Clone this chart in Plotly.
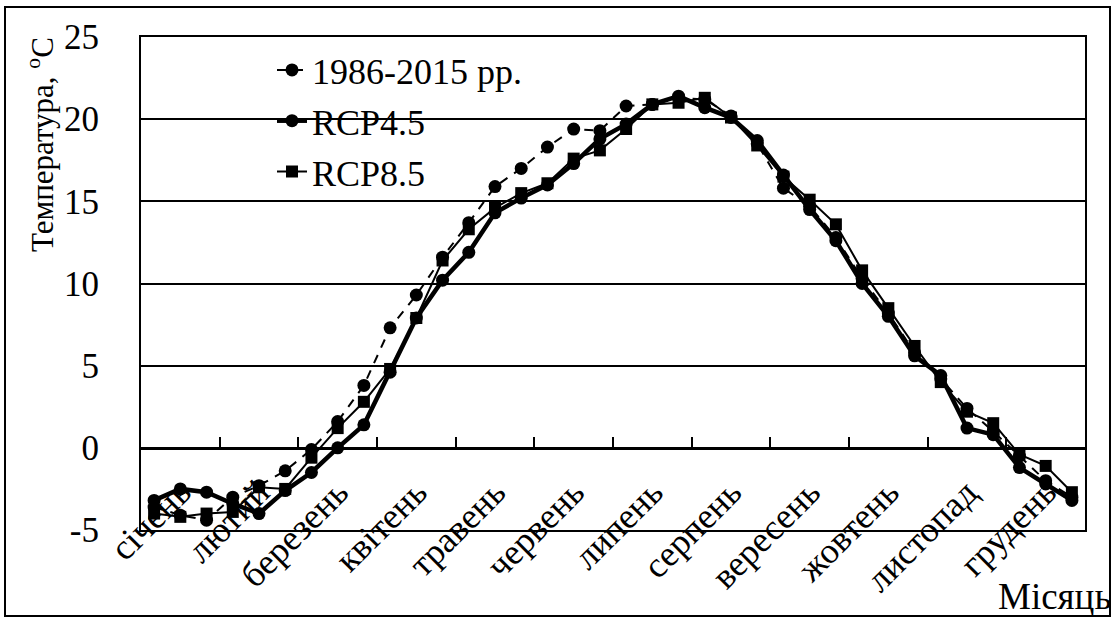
import plotly.graph_objects as go

# ---- data ----
dekads = list(range(1, 37))
months = ["січень", "лютий", "березень", "квітень", "травень", "червень",
          "липень", "серпень", "вересень", "жовтень", "листопад", "грудень"]
month_label_pos = [2, 5, 8, 11, 14, 17, 20, 23, 26, 29, 32, 35]
month_bounds = [3.5, 6.5, 9.5, 12.5, 15.5, 18.5, 21.5, 24.5, 27.5, 30.5, 33.5]

base_1986_2015 = [-3.6, -4.1, -4.4, -3.0, -2.3, -1.4, -0.1, 1.6, 3.8, 7.3, 9.3, 11.6,
                  13.7, 15.9, 17.0, 18.3, 19.4, 19.3, 20.8, 20.9, 21.3, 21.2, 20.2, 18.5,
                  15.8, 14.7, 12.8, 10.3, 8.2, 5.8, 4.2, 2.4, 1.0, -0.5, -2.0, -3.0]
rcp45 = [-3.2, -2.5, -2.7, -3.4, -4.0, -2.6, -1.5, 0.0, 1.4, 4.6, 7.9, 10.2,
         11.9, 14.3, 15.2, 16.0, 17.3, 18.8, 19.7, 20.9, 21.4, 20.7, 20.1, 18.7,
         16.6, 14.5, 12.6, 10.0, 8.0, 5.6, 4.4, 1.2, 0.8, -1.2, -2.2, -3.2]
rcp85 = [-4.0, -4.2, -4.0, -3.9, -2.4, -2.5, -0.6, 1.2, 2.8, 4.8, 7.9, 11.4,
         13.3, 14.6, 15.5, 16.1, 17.6, 18.1, 19.4, 20.9, 21.0, 21.3, 20.1, 18.4,
         16.5, 15.1, 13.6, 10.8, 8.5, 6.2, 4.0, 2.2, 1.5, -0.4, -1.1, -2.7]

y_ticks = [-5, 0, 5, 10, 15, 20, 25]
y_ticktext = ["-5", "0", "5", "10", "15", "20", "25"]

FONT = "Liberation Serif, Times New Roman, serif"
W, H = 1116, 623
ML, MR, MT, MB = 141, 31, 37, 93
PW, PH = W - ML - MR, H - MT - MB


def px_x(px):
    return (px - ML) / PW


def px_y(py):
    return (H - MB - py) / PH


fig = go.Figure()
fig.add_trace(go.Scatter(
    x=dekads, y=base_1986_2015, name="1986-2015 рр.", mode="lines+markers",
    line=dict(color="black", width=2, dash="9px,8px"),
    marker=dict(symbol="circle", size=13, color="black"),
    legendgroup="a"))
fig.add_trace(go.Scatter(
    x=dekads, y=rcp45, name="RCP4.5", mode="lines+markers",
    line=dict(color="black", width=4.5),
    marker=dict(symbol="circle", size=13, color="black"),
    legendgroup="b"))
fig.add_trace(go.Scatter(
    x=dekads, y=rcp85, name="RCP8.5", mode="lines+markers",
    line=dict(color="black", width=2),
    marker=dict(symbol="square", size=12, color="black"),
    legendgroup="c"))

# invisible helper traces to activate overlay axes
fig.add_trace(go.Scatter(x=[dekads[0]], y=[y_ticks[0]], xaxis="x2", mode="markers",
                         marker=dict(opacity=0), showlegend=False, hoverinfo="skip"))
fig.add_trace(go.Scatter(x=[dekads[0]], y=[y_ticks[0]], xaxis="x3", mode="markers",
                         marker=dict(opacity=0), showlegend=False, hoverinfo="skip"))

xr = [dekads[0] - 0.5, dekads[-1] + 0.5]
zero_pos = (0 - y_ticks[0]) / (y_ticks[-1] - y_ticks[0])

fig.update_layout(
    width=W, height=H,
    margin=dict(l=ML, r=MR, t=MT, b=MB),
    paper_bgcolor="white", plot_bgcolor="white",
    font=dict(family=FONT, color="black", size=34),
    showlegend=True,
    legend=dict(x=px_x(272), y=px_y(40), xanchor="left", yanchor="top",
                bgcolor="rgba(0,0,0,0)", font=dict(size=36, family=FONT, color="black"),
                tracegroupgap=1, itemwidth=30),
    xaxis=dict(range=xr, showgrid=False, zeroline=False, showticklabels=False,
               showline=True, mirror=True, linecolor="black", linewidth=2, ticks=""),
    xaxis2=dict(range=xr, overlaying="x", anchor="free", position=zero_pos,
                showgrid=False, zeroline=False, showticklabels=False,
                showline=True, linecolor="black", linewidth=2.5,
                tickmode="array", tickvals=month_bounds, ticks="inside",
                ticklen=10, tickwidth=2, tickcolor="black"),
    xaxis3=dict(range=xr, overlaying="x", anchor="free", position=px_y(463),
                showgrid=False, zeroline=False, showline=False, ticks="",
                tickmode="array", tickvals=month_label_pos, ticktext=months,
                tickangle=-45, tickfont=dict(size=36, family=FONT, color="black")),
    yaxis=dict(range=[y_ticks[0], y_ticks[-1]], tickmode="array", tickvals=y_ticks,
               ticktext=y_ticktext,
               showgrid=True, gridcolor="black", gridwidth=1.5, zeroline=False,
               showline=True, mirror=True, linecolor="black", linewidth=2,
               ticks="", ticklabelstandoff=33,
               tickfont=dict(size=35, family=FONT, color="black")),
)

fig.add_annotation(text="Температура, <sup>o</sup>C", xref="paper", yref="paper",
                   x=px_x(40), y=px_y(145), textangle=-90, showarrow=False,
                   font=dict(size=31, family=FONT, color="black"),
                   xanchor="center", yanchor="middle")
fig.add_annotation(text="Місяць", xref="paper", yref="paper",
                   x=px_x(1113), y=px_y(596), showarrow=False,
                   font=dict(size=37, family=FONT, color="black"),
                   xanchor="right", yanchor="middle")

fig.add_shape(type="rect", xref="paper", yref="paper",
              x0=px_x(5), x1=px_x(1110), y0=px_y(616), y1=px_y(7),
              line=dict(color="black", width=2), layer="below")

fig.write_html("out.html")
